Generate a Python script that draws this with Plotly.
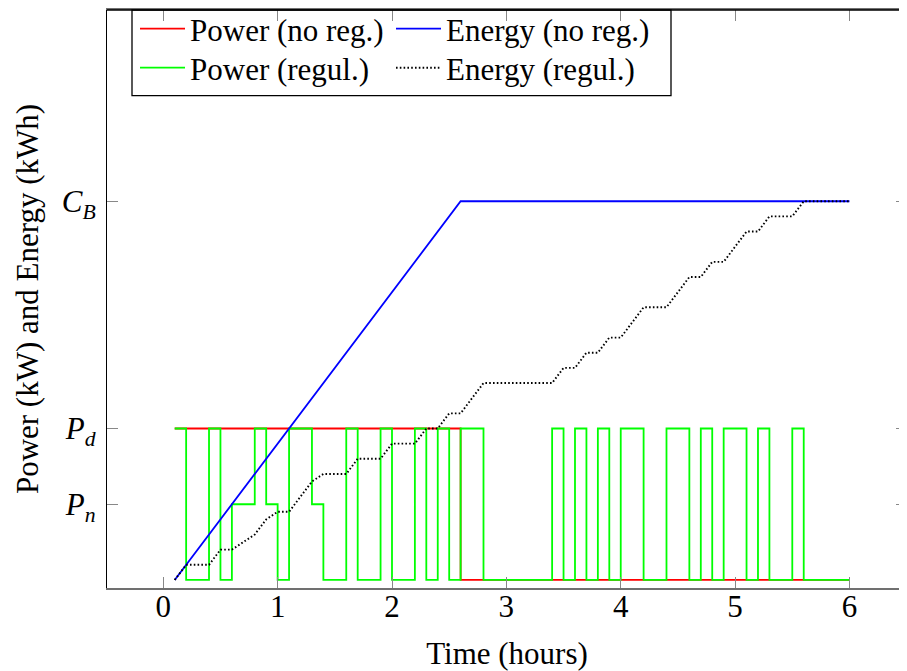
import plotly.graph_objects as go

# ---- data ----
P_N = 1.0   # nominal power level (P_n)
P_D = 2.0   # discharge power level (P_d)
C_B = 5.0   # battery capacity (C_B)

ytick_vals = [P_N, P_D, C_B]
ytick_text = ["<i>P<sub>n</sub></i>", "<i>P<sub>d</sub></i>", "<i>C<sub>B</sub></i>"]
xtick_vals = [0, 1, 2, 3, 4, 5, 6]

# Power without regulation (step)
t_power_noreg = [0.1, 2.6, 6.0]
p_power_noreg = [2.0, 0.0, 0.0]

# Energy without regulation
t_energy_noreg = [0.1, 2.6, 6.0]
e_energy_noreg = [0.0, 5.0, 5.0]

# Power with regulation (step, value held until next time)
t_power_reg = [0.1, 0.2, 0.4, 0.5, 0.6, 0.8, 0.9, 1.0, 1.1, 1.3, 1.4, 1.6, 1.7, 1.9, 2.0,
               2.2, 2.3, 2.4, 2.5, 2.6, 2.8, 3.4, 3.5, 3.6, 3.7, 3.8, 3.9, 4.0, 4.2, 4.4,
               4.6, 4.7, 4.8, 4.9, 5.1, 5.2, 5.3, 5.5, 5.6, 6.0]
p_power_reg = [2, 0, 2, 0, 1, 2, 1, 0, 2, 1, 0, 2, 0, 2, 0,
               2, 0, 2, 0, 2, 0, 2, 0, 2, 0, 2, 0, 2, 0, 2,
               0, 2, 0, 2, 0, 2, 0, 2, 0, 0]

# Energy with regulation
t_energy_reg = [0.1, 0.2, 0.4, 0.5, 0.6, 0.8, 0.9, 1.0, 1.1, 1.3, 1.4, 1.6, 1.7, 1.9, 2.0,
                2.2, 2.3, 2.4, 2.5, 2.6, 2.8, 3.4, 3.5, 3.6, 3.7, 3.8, 3.9, 4.0, 4.2, 4.4,
                4.6, 4.7, 4.8, 4.9, 5.1, 5.2, 5.3, 5.5, 5.6, 6.0]
e_energy_reg = [0.0, 0.2, 0.2, 0.4, 0.4, 0.6, 0.8, 0.9, 0.9, 1.3, 1.4, 1.4, 1.6, 1.6, 1.8,
                1.8, 2.0, 2.0, 2.2, 2.2, 2.6, 2.6, 2.8, 2.8, 3.0, 3.0, 3.2, 3.2, 3.6, 3.6,
                4.0, 4.0, 4.2, 4.2, 4.6, 4.6, 4.8, 4.8, 5.0, 5.0]

FONT = "Liberation Serif, Times New Roman, serif"
FS = 31

fig = go.Figure()
fig.add_trace(go.Scatter(x=t_power_noreg, y=p_power_noreg, mode="lines", line_shape="hv",
                         line=dict(color="#ff0000", width=1.8), name="Power (no reg.)",
                         legend="legend"))
fig.add_trace(go.Scatter(x=t_power_reg, y=p_power_reg, mode="lines", line_shape="hv",
                         line=dict(color="#00ff00", width=1.8), name="Power (regul.)",
                         legend="legend3"))
fig.add_trace(go.Scatter(x=t_energy_noreg, y=e_energy_noreg, mode="lines",
                         line=dict(color="#0000ff", width=1.8), name="Energy (no reg.)",
                         legend="legend2"))
fig.add_trace(go.Scatter(x=t_energy_reg, y=e_energy_reg, mode="lines",
                         line=dict(color="#000000", width=1.9, dash="1.6px,2.2px"),
                         name="Energy (regul.)", legend="legend4"))

legend_common = dict(font=dict(family=FONT, size=FS, color="black"),
                     bgcolor="rgba(0,0,0,0)", borderwidth=0, itemwidth=45,
                     xanchor="left", yanchor="middle", orientation="v")

ROW1 = 0.9671
ROW2 = 0.8996
COL1 = 0.035
COL2 = 0.355

fig.update_layout(
    width=899, height=663,
    margin=dict(l=99, r=0, t=2, b=83, pad=0, autoexpand=False),
    paper_bgcolor="white", plot_bgcolor="white",
    font=dict(family=FONT, size=FS, color="black"),
    showlegend=True,
    legend=dict(x=COL1, y=ROW1, **legend_common),
    legend2=dict(x=COL2, y=ROW1, **legend_common),
    legend3=dict(x=COL1, y=ROW2, **legend_common),
    legend4=dict(x=COL2, y=ROW2, **legend_common),
    xaxis=dict(range=[-0.492, 6.503], tickvals=xtick_vals, ticks="inside", ticklen=11,
               tickcolor="#888888", tickwidth=1, showline=True, linecolor="#707070",
               linewidth=1.5, mirror="ticks", showgrid=False, zeroline=False,
               ticklabelstandoff=-10, automargin=False,
               title=dict(text="Time (hours)", font=dict(family=FONT, size=FS), standoff=20)),
    yaxis=dict(range=[-0.106, 7.525], tickvals=ytick_vals, ticktext=ytick_text,
               ticks="inside", ticklen=11, tickcolor="#888888", tickwidth=1,
               showline=True, linecolor="black", linewidth=1.3, mirror="ticks",
               showgrid=False, zeroline=False, ticklabelstandoff=4, automargin=False,
               title=dict(text="Power (kW) and Energy (kWh)", font=dict(family=FONT, size=FS),
                          standoff=13)),
    shapes=[
        dict(type="line", xref="paper", yref="paper", x0=0, x1=1, y0=1, y1=1,
             line=dict(color="black", width=1.3), layer="above"),
        dict(type="rect", xref="paper", yref="paper", x0=0.03125, x1=0.705,
             y0=0.8517, y1=1.0, line=dict(color="black", width=1.3),
             fillcolor="rgba(0,0,0,0)", layer="above"),
    ],
)

fig.write_html("out.html")
